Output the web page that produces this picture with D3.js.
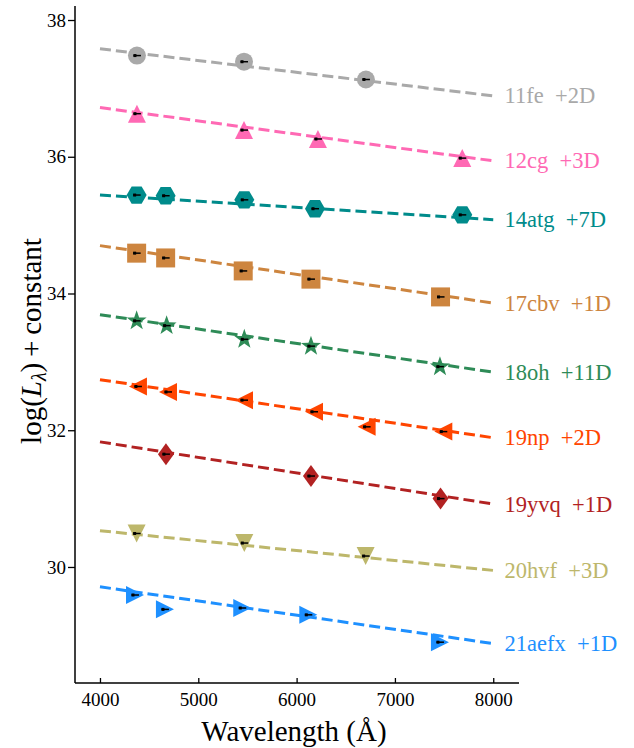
<!DOCTYPE html>
<meta charset="utf-8">
<head>
    <script src="https://d3js.org/d3.v7.min.js"></script>
    <style>
        body { margin: 0; background: white; }
        svg text { font-family: "Liberation Serif", "Times New Roman", serif; }
    </style>
</head>
<body>
<div id="chart"></div>
<script>
    // series, top to bottom
    var names = ["11fe", "12cg", "14atg", "17cbv", "18oh", "19np", "19yvq", "20hvf", "21aefx"];
    var offsets = ["+2D", "+3D", "+7D", "+1D", "+11D", "+2D", "+1D", "+3D", "+1D"];
    var colors = ["#a9a9a9", "#ff69b4", "#008b8b", "#cd853f", "#2e8b57", "#ff4500", "#b22222", "#bdb76b", "#1e90ff"];
    var shapes = ["circle", "triUp", "hexagon", "square", "star", "triLeft", "thinDiamond", "triDown", "triRight"];

    // dashed fit lines, value at 4000 and 8000 A
    var fitWaves = [4000, 8000];
    var fitStart = [37.58, 36.72, 35.44, 34.70, 33.69, 32.74, 31.83, 30.53, 29.71];
    var fitEnd = [36.89, 35.94, 35.08, 33.86, 32.85, 31.89, 30.92, 29.95, 28.88];

    // photometry points
    var waves = [
        [4376, 5465, 6705],
        [4376, 5465, 6217, 7685],
        [4373, 4668, 5468, 6187, 7685],
        [4373, 4668, 5457, 6146, 7464],
        [4373, 4678, 5468, 6146, 7458],
        [4386, 4692, 5465, 6177, 6712, 7492],
        [4671, 6146, 7464],
        [4373, 5468, 6702],
        [4356, 4661, 5447, 6119, 7458]
    ];
    var values = [
        [37.48, 37.39, 37.13],
        [36.63, 36.39, 36.26, 35.98],
        [35.44, 35.43, 35.37, 35.24, 35.15],
        [34.59, 34.52, 34.33, 34.21, 33.95],
        [33.60, 33.53, 33.33, 33.23, 32.93],
        [32.64, 32.56, 32.44, 32.27, 32.05, 31.98],
        [31.65, 31.33, 31.00],
        [30.49, 30.35, 30.16],
        [29.59, 29.38, 29.40, 29.30, 28.90]
    ];

    var xTicks = [4000, 5000, 6000, 7000, 8000];
    var yTicks = [30, 32, 34, 36, 38];

    var width = 634, height = 748;
    var plotLeft = 75, plotRight = 519, plotTop = 6, plotBottom = 683;

    var svg = d3.select("#chart").append("svg")
        .attr("width", width)
        .attr("height", height);

    var x = d3.scaleLinear().domain([3746, 8262]).range([plotLeft, plotRight]);
    var y = d3.scaleLinear().domain([28.303, 38.205]).range([plotBottom, plotTop]);

    // marker outlines
    function shapePath(type) {
        var p = d3.path();
        if (type == "circle") {
            p.arc(0, 0, 9, 0, 2 * Math.PI);
        } else if (type == "square") {
            p.rect(-9.5, -9.5, 19, 19);
        } else if (type == "triUp" || type == "triDown" || type == "triLeft" || type == "triRight") {
            var h = 9;
            var pts = [[0, -h], [h, h], [-h, h]];
            var rot = {triUp: 0, triRight: 90, triDown: 180, triLeft: 270}[type] * Math.PI / 180;
            pts.forEach(function(q, i) {
                var px = q[0] * Math.cos(rot) - q[1] * Math.sin(rot);
                var py = q[0] * Math.sin(rot) + q[1] * Math.cos(rot);
                if (i == 0) p.moveTo(px, py); else p.lineTo(px, py);
            });
        } else if (type == "hexagon") {
            for (var i = 0; i < 6; i++) {
                var a = i * Math.PI / 3;
                if (i == 0) p.moveTo(10 * Math.cos(a), 10 * Math.sin(a));
                else p.lineTo(10 * Math.cos(a), 10 * Math.sin(a));
            }
        } else if (type == "star") {
            for (var i = 0; i < 10; i++) {
                var r = i % 2 == 0 ? 10.5 : 4.2;
                var a = -Math.PI / 2 + i * Math.PI / 5;
                if (i == 0) p.moveTo(r * Math.cos(a), r * Math.sin(a));
                else p.lineTo(r * Math.cos(a), r * Math.sin(a));
            }
        } else if (type == "thinDiamond") {
            p.moveTo(0, -11); p.lineTo(8, 0); p.lineTo(0, 11); p.lineTo(-8, 0);
        }
        p.closePath();
        return p.toString();
    }

    names.forEach(function(name, s) {
        var g = svg.append("g");
        var line = d3.line()
            .x(function(d) { return x(d[0]); })
            .y(function(d) { return y(d[1]); });
        g.append("path")
            .attr("d", line([[fitWaves[0], fitStart[s]], [fitWaves[1], fitEnd[s]]]))
            .attr("fill", "none")
            .attr("stroke", colors[s])
            .attr("stroke-width", 3)
            .attr("stroke-dasharray", "11,5");

        var pts = waves[s].map(function(w, i) { return [w, values[s][i]]; });

        g.selectAll("path.marker")
            .data(pts)
            .enter()
            .append("path")
            .attr("class", "marker")
            .attr("d", shapePath(shapes[s]))
            .attr("transform", function(d) { return "translate(" + x(d[0]) + "," + y(d[1]) + ")"; })
            .attr("fill", colors[s]);

        // small black points with error bars
        g.selectAll("rect.obs")
            .data(pts)
            .enter()
            .append("rect")
            .attr("class", "obs")
            .attr("x", function(d) { return x(d[0]) - 3.5; })
            .attr("y", function(d) { return y(d[1]) - 1.5; })
            .attr("width", 3)
            .attr("height", 3)
            .attr("fill", "black");
        g.selectAll("line.obs")
            .data(pts)
            .enter()
            .append("line")
            .attr("class", "obs")
            .attr("x1", function(d) { return x(d[0]) - 3.5; })
            .attr("x2", function(d) { return x(d[0]) + 4; })
            .attr("y1", function(d) { return y(d[1]); })
            .attr("y2", function(d) { return y(d[1]); })
            .attr("stroke", "black")
            .attr("stroke-width", 1.5);

        g.append("text")
            .attr("x", x(8115))
            .attr("y", y(fitEnd[s]) + 7.5)
            .attr("fill", colors[s])
            .style("font-size", "22.5px")
            .style("white-space", "pre")
            .text(name + "  " + offsets[s]);
    });

    // axes
    var xAxis = svg.append("g")
        .attr("transform", "translate(0," + plotBottom + ")")
        .call(d3.axisBottom(x).tickValues(xTicks).tickSize(-5).tickPadding(10).tickFormat(d3.format("d")));
    var yAxis = svg.append("g")
        .attr("transform", "translate(" + plotLeft + ",0)")
        .call(d3.axisLeft(y).tickValues(yTicks).tickSize(7).tickPadding(2).tickFormat(d3.format("d")));

    [xAxis, yAxis].forEach(function(a) {
        a.attr("font-size", null).attr("font-family", null);
        a.select(".domain").remove();
        a.selectAll(".tick line").attr("stroke", "black").attr("stroke-width", 1.3);
        a.selectAll(".tick text")
            .attr("fill", "black")
            .style("font-size", "19px");
    });

    svg.append("line")
        .attr("x1", plotLeft).attr("x2", plotLeft)
        .attr("y1", plotTop).attr("y2", plotBottom)
        .attr("stroke", "black").attr("stroke-width", 1.5);
    svg.append("line")
        .attr("x1", plotLeft).attr("x2", plotRight)
        .attr("y1", plotBottom).attr("y2", plotBottom)
        .attr("stroke", "black").attr("stroke-width", 1.5);

    svg.append("text")
        .attr("x", 294)
        .attr("y", 741)
        .attr("text-anchor", "middle")
        .style("font-size", "29px")
        .text("Wavelength (Å)");

    var yl = svg.append("text")
        .attr("transform", "translate(41,341) rotate(-90)")
        .attr("text-anchor", "middle")
        .style("font-size", "29px");
    yl.append("tspan").text("log(");
    yl.append("tspan").style("font-style", "italic").text("L");
    yl.append("tspan").attr("dy", 5).style("font-size", "20px").style("font-style", "italic").text("λ");
    yl.append("tspan").attr("dy", -5).text(")\u2009+\u2009constant");
</script>
</body>
</html>
